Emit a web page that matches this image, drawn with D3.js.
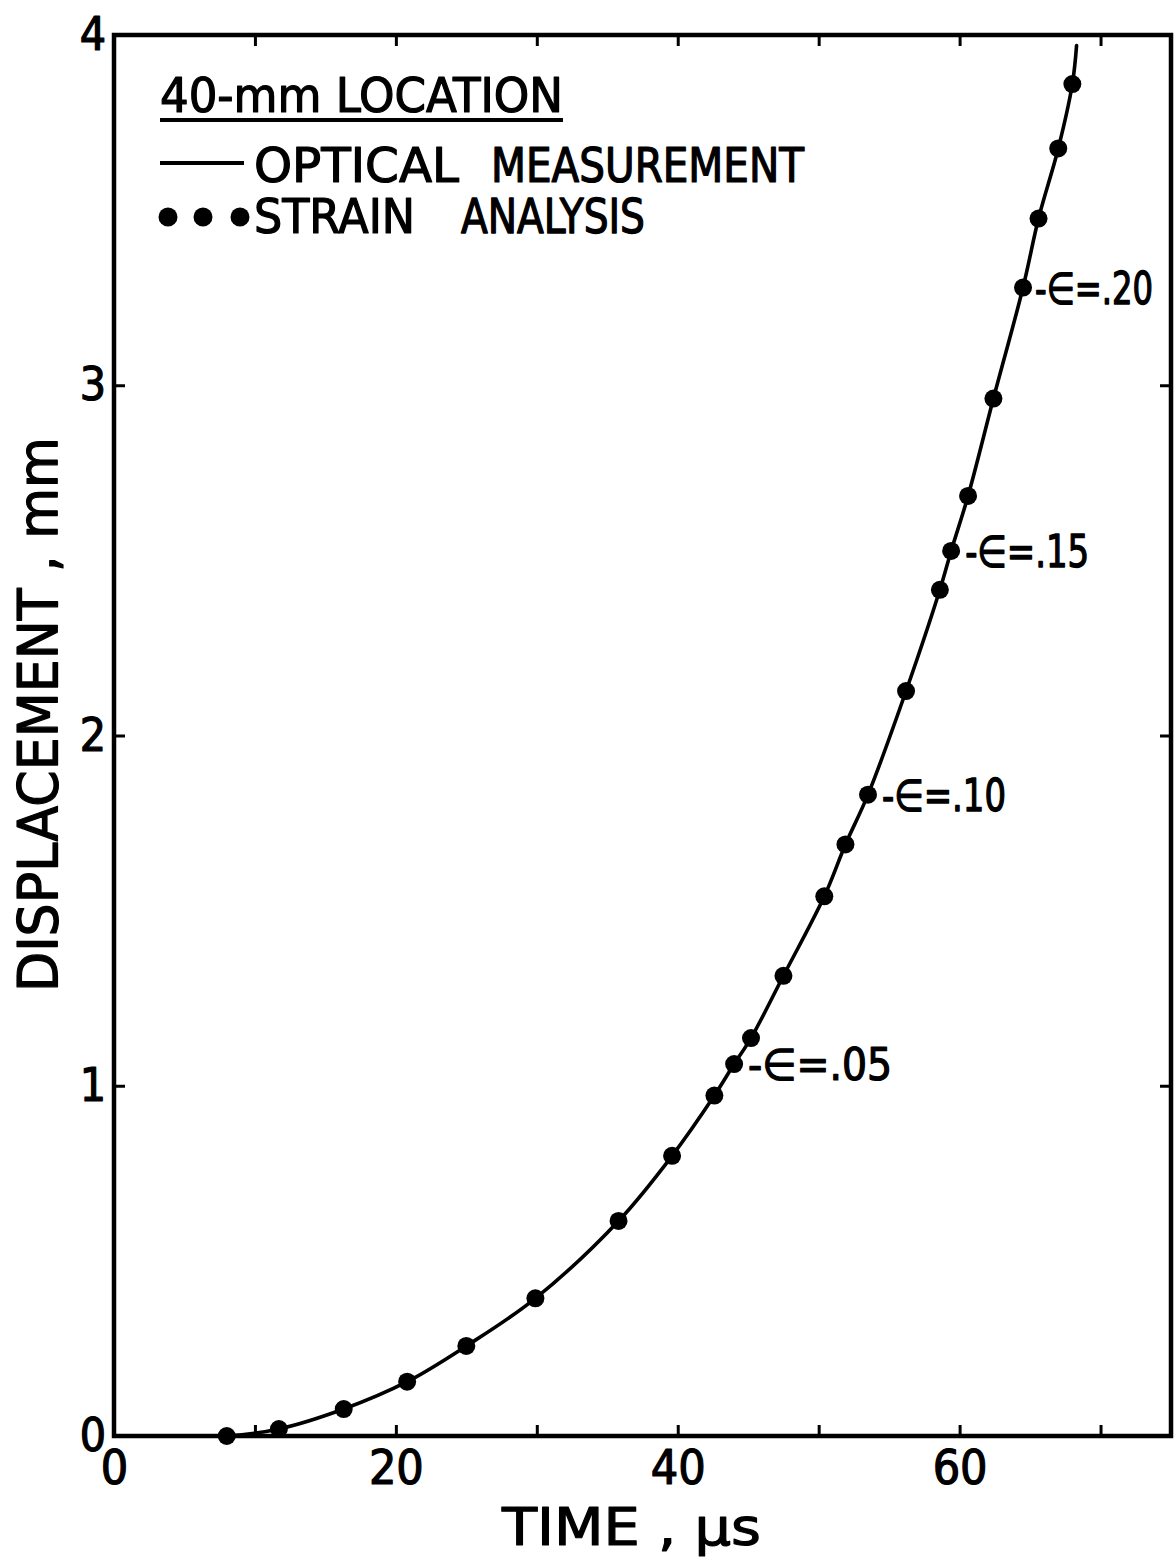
<!DOCTYPE html>
<html>
<head>
<meta charset="utf-8">
<script src="https://cdn.jsdelivr.net/npm/d3@7"></script>
<style>
  html, body { margin: 0; padding: 0; background: #fff; }
  svg { display: block; }
  text { font-family: "DejaVu Sans Condensed", "DejaVu Sans", sans-serif; fill: #000; stroke: #000; stroke-width: 1.2px; stroke-linejoin: round; }
</style>
</head>
<body>
<svg id="chart" width="1176" height="1564"></svg>
<script>
// Strain-analysis points: time (µs) and displacement (mm)
const strainTime = [8.0, 11.7, 16.3, 20.8, 25.0, 29.9, 35.8, 39.6, 42.6, 44.0, 45.2, 47.5,
                    50.4, 51.9, 53.5, 56.2, 58.6, 59.4, 60.6, 62.4, 64.5, 65.6, 67.0, 68.0];
const strainDisp = [0.0, 0.02, 0.077, 0.155, 0.257, 0.393, 0.614, 0.80, 0.972, 1.062, 1.136, 1.314,
                    1.541, 1.689, 1.831, 2.127, 2.416, 2.527, 2.684, 2.962, 3.279, 3.476, 3.676, 3.86];

// Optical measurement trace
const opticalTime = [7.5, 8.0, 11.7, 16.3, 20.8, 25.0, 29.9, 35.8, 39.6, 42.6, 44.0, 45.2, 47.5,
                     50.4, 51.9, 53.5, 56.2, 58.6, 59.4, 60.6, 62.4, 64.5, 65.6, 67.0, 68.0, 68.3];
const opticalDisp = [0.0, 0.0, 0.02, 0.077, 0.155, 0.257, 0.393, 0.614, 0.80, 0.972, 1.062, 1.136, 1.314,
                     1.541, 1.689, 1.831, 2.127, 2.416, 2.527, 2.684, 2.962, 3.279, 3.476, 3.676, 3.86, 3.97];

// Strain levels annotated on the curve
const strainLabels = ["-\u2208=.05", "-\u2208=.10", "-\u2208=.15", "-\u2208=.20"];
const strainLabelTime = [44.0, 53.5, 59.4, 64.5];
const strainLabelDisp = [1.062, 1.831, 2.527, 3.279];

// Axis ticks
const xTickMarks = [10, 20, 30, 40, 50, 60, 70];
const xTickLabels = [0, 20, 40, 60];
const yTickMarks = [1, 2, 3];
const yTickLabels = [0, 1, 2, 3, 4];

const svg = d3.select("#chart");
const x = d3.scaleLinear().domain([0, 75]).range([114, 1171]);
const y = d3.scaleLinear().domain([0, 4]).range([1436, 35]);

const ink = "#000";

// Inward tick marks on all four sides
function styleTicks(g) {
  g.select(".domain").remove();
  g.selectAll(".tick line").attr("stroke", ink).attr("stroke-width", 3);
}
svg.append("g").attr("transform", `translate(0,${y(0)})`)
  .call(d3.axisBottom(x).tickValues(xTickMarks).tickSize(-11).tickFormat(""))
  .call(styleTicks);
svg.append("g").attr("transform", `translate(0,${y(4)})`)
  .call(d3.axisTop(x).tickValues(xTickMarks).tickSize(-11).tickFormat(""))
  .call(styleTicks);
svg.append("g").attr("transform", `translate(${x(0)},0)`)
  .call(d3.axisLeft(y).tickValues(yTickMarks).tickSize(-11).tickFormat(""))
  .call(styleTicks);
svg.append("g").attr("transform", `translate(${x(75)},0)`)
  .call(d3.axisRight(y).tickValues(yTickMarks).tickSize(-11).tickFormat(""))
  .call(styleTicks);

// Tick labels
const xl = svg.append("g").attr("transform", `translate(0,${y(0)})`)
  .call(d3.axisBottom(x).tickValues(xTickLabels).tickSize(0).tickPadding(14).tickFormat(d3.format("d")));
xl.select(".domain").remove();
xl.selectAll("text").attr("font-size", 48).attr("fill", ink).attr("stroke", ink)
  .style("font-family", '"DejaVu Sans Condensed", "DejaVu Sans", sans-serif');

const yl = svg.append("g").attr("transform", `translate(${x(0)},0)`)
  .call(d3.axisLeft(y).tickValues(yTickLabels).tickSize(0).tickPadding(8).tickFormat(d3.format("d")));
yl.select(".domain").remove();
yl.selectAll("text").attr("font-size", 46).attr("fill", ink).attr("stroke", ink)
  .style("font-family", '"DejaVu Sans Condensed", "DejaVu Sans", sans-serif');

// Plot frame
svg.append("rect")
  .attr("x", x(0)).attr("y", y(4))
  .attr("width", x(75) - x(0)).attr("height", y(0) - y(4))
  .attr("fill", "none").attr("stroke", ink).attr("stroke-width", 4.5);

// Optical trace
const line = d3.line()
  .x((d, i) => x(opticalTime[i]))
  .y((d, i) => y(opticalDisp[i]))
  .curve(d3.curveCatmullRom.alpha(0.5));
svg.append("path")
  .attr("d", line(opticalTime))
  .attr("fill", "none").attr("stroke", ink).attr("stroke-width", 3.6)
  .attr("stroke-linejoin", "round").attr("stroke-linecap", "round");

// Strain-analysis dots
svg.append("g").selectAll("circle")
  .data(strainTime)
  .join("circle")
  .attr("cx", (d, i) => x(d))
  .attr("cy", (d, i) => y(strainDisp[i]))
  .attr("r", 9)
  .attr("fill", ink);

// Text squeezed horizontally to a given width: left edge, baseline, width, size, angle
function fitText(str, x0, baseline, width, size, angle = 0) {
  const t = svg.append("text")
    .attr("x", 0).attr("y", 0)
    .attr("font-size", size)
    .text(str);
  const natural = t.node().getComputedTextLength();
  const sx = natural > 0 ? width / natural : 1;
  t.attr("transform", `translate(${x0},${baseline}) rotate(${angle}) scale(${sx},1)`)
   .style("stroke-width", `${1.2 / Math.sqrt(sx)}px`);
  return t;
}

// Strain level labels, just right of their dots
const labelWidths = [144, 124, 124, 118];
strainLabels.forEach((s, i) => {
  fitText(s, x(strainLabelTime[i]) + (i === 3 ? 12 : 14), y(strainLabelDisp[i]) + 16, labelWidths[i], 44);
});

// Legend
fitText("40-mm LOCATION", 160, 112, 403, 48);
svg.append("line").attr("x1", 160).attr("x2", 563).attr("y1", 120).attr("y2", 120)
  .attr("stroke", ink).attr("stroke-width", 4);

svg.append("line").attr("x1", 160).attr("x2", 244).attr("y1", 163).attr("y2", 163)
  .attr("stroke", ink).attr("stroke-width", 4);
fitText("OPTICAL", 254, 182, 205, 48);
fitText("MEASUREMENT", 491, 182, 313, 48);

svg.append("g").selectAll("circle")
  .data([168, 203, 240])
  .join("circle")
  .attr("cx", d => d).attr("cy", 217).attr("r", 9.5).attr("fill", ink);
fitText("STRAIN", 254, 233, 161, 48);
fitText("ANALYSIS", 461, 233, 184, 48);

// Axis titles
fitText("TIME , \u03BCs", 502, 1545, 259, 52);
fitText("DISPLACEMENT , mm", 57, 992, 555, 55, -90);
</script>
</body>
</html>
